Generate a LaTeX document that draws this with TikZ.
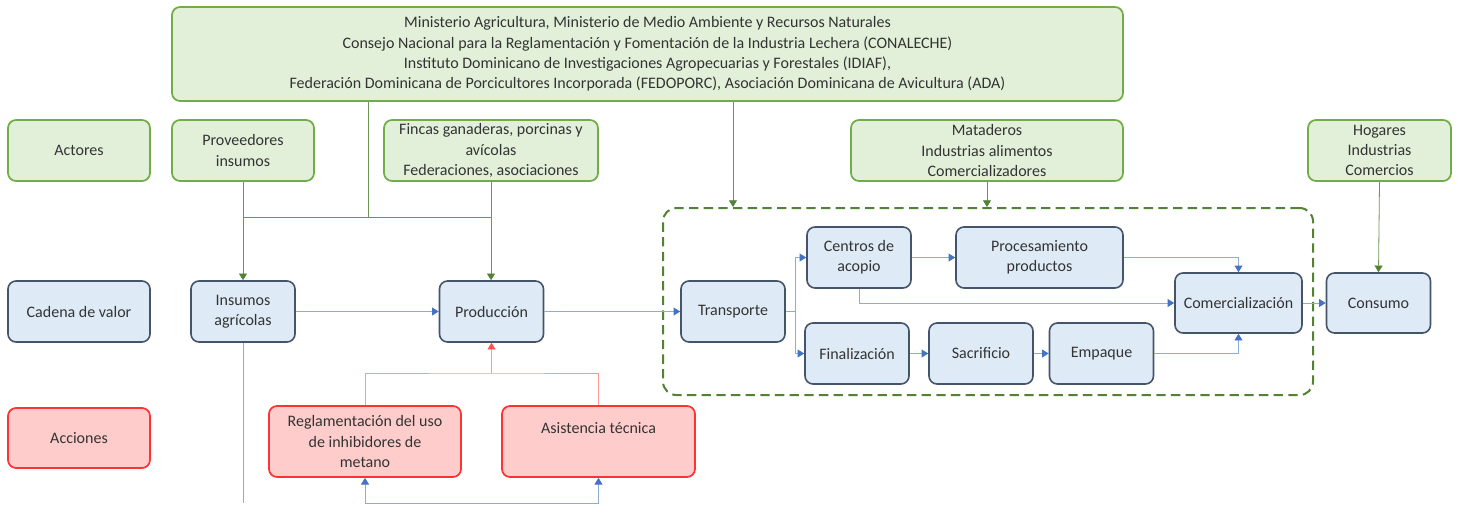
\documentclass[tikz,border=0pt]{standalone}
\usepackage{fontspec}
\setmainfont{Carlito}
\usetikzlibrary{arrows.meta}
\definecolor{verdeFondo}{HTML}{E2F0D9}
\definecolor{verdeBorde}{HTML}{70AD47}
\definecolor{verdeLinea}{HTML}{548235}
\definecolor{azulFondo}{HTML}{DEEBF7}
\definecolor{azulBorde}{HTML}{44546A}
\definecolor{azulLinea}{HTML}{8FAADC}
\definecolor{azulPunta}{HTML}{4472C4}
\definecolor{rojoFondo}{HTML}{FFCCCC}
\definecolor{rojoBorde}{HTML}{FF3333}
\definecolor{rojoLinea}{HTML}{FF9999}
\definecolor{rojoPunta}{HTML}{FF5050}
\definecolor{textoGris}{HTML}{333333}
\begin{document}
\begin{tikzpicture}[x=0.75pt,y=-0.75pt,
	every node/.style={font=\fontsize{12}{15.2}\selectfont,text=textoGris,align=center,inner sep=0pt,rounded corners=6pt},
	actor/.style={draw=verdeBorde,fill=verdeFondo,line width=1.3pt,minimum height=45.75pt},
	eslabon/.style={draw=azulBorde,fill=azulFondo,line width=1.2pt,minimum width=78pt,minimum height=45.75pt},
	accion/.style={draw=rojoBorde,fill=rojoFondo,line width=1.3pt,minimum height=45pt},
	verdeSin/.style={draw=verdeLinea!85!white,line width=0.6pt},
	verde/.style={verdeSin,>={Triangle[length=5pt,width=6pt,color=verdeLinea]},->},
	azulSin/.style={draw=azulLinea,line width=0.7pt},
	azul/.style={azulSin,>={Triangle[length=5pt,width=6pt,color=azulPunta]},->},
	rojoSin/.style={draw=rojoLinea,line width=0.7pt},
	rojo/.style={rojoSin,>={Triangle[length=5pt,width=6pt,color=rojoPunta]},->}]
	\useasboundingbox (0,0) rectangle (1460,504);

	% actores
	\node[actor,minimum width=713.25pt,minimum height=70.5pt] (top) at (647.5,54) {Ministerio Agricultura, Ministerio de Medio Ambiente y Recursos Naturales\\
		Consejo Nacional para la Reglamentación y Fomentación de la Industria Lechera (CONALECHE)\\
		Instituto Dominicano de Investigaciones Agropecuarias y Forestales (IDIAF),\\
		Federación Dominicana de Porcicultores Incorporada (FEDOPORC), Asociación Dominicana de Avicultura (ADA)};
	\node[actor,minimum width=106.5pt] (actores) at (79,150.5) {Actores};
	\node[actor,minimum width=106.5pt] (prov) at (243,150.5) {Proveedores\\insumos};
	\node[actor,minimum width=160.5pt] (fincas) at (491,150.5) {Fincas ganaderas, porcinas y\\avícolas\\Federaciones, asociaciones};
	\node[actor,minimum width=204pt] (mata) at (987,150.5) {Mataderos\\Industrias alimentos\\Comercializadores};
	\node[actor,minimum width=107.25pt] (hogares) at (1379.5,150.5) {Hogares\\Industrias\\Comercios};

	% cadena de valor
	\node[draw=verdeLinea,line width=1.5pt,dash pattern=on 7pt off 4pt,rounded corners=10pt,minimum width=487.5pt,minimum height=140.25pt] (zona) at (988,301.5) {};
	\node[eslabon,minimum width=106.5pt] (cadena) at (79,311.5) {Cadena de valor};
	\node[eslabon] (insumos) at (243,311.5) {Insumos\\agrícolas};
	\node[eslabon] (produccion) at (491.5,311.5) {Producción};
	\node[eslabon] (transporte) at (733,311.5) {Transporte};
	\node[eslabon] (acopio) at (859,257.5) {Centros de\\acopio};
	\node[eslabon,minimum width=125.25pt] (proc) at (1039.5,257.5) {Procesamiento\\productos};
	\node[eslabon] (final) at (857,353.5) {Finalización};
	\node[eslabon] (sacr) at (981,353.5) {Sacrificio};
	\node[eslabon] (empaque) at (1101.5,353.5) {Empaque};
	\node[eslabon,minimum width=95.25pt,minimum height=45pt] (comerc) at (1238.5,303) {Comercialización};
	\node[eslabon,minimum height=45pt] (consumo) at (1378.5,303) {Consumo};

	% acciones
	\node[accion,minimum width=106.5pt] (acciones) at (79,438) {Acciones};
	\node[accion,minimum width=144pt,minimum height=53.25pt] (regl) at (365,441.5) {Reglamentación del uso\\de inhibidores de\\metano};
	\node[accion,minimum width=144.75pt,minimum height=53.25pt] (asis) at (598.5,441.5) {Asistencia técnica\\\strut};

	\coordinate (cruce) at (368,217);
	\draw[verdeSin] (top.south -| cruce) -- (cruce);
	\draw[verdeSin] (prov.south |- cruce) -- (fincas.south |- cruce);
	\draw[verde] (prov.south) -- (insumos.north);
	\draw[verde] (fincas.south) -- (fincas.south |- produccion.north);
	\draw[verde] (top.south -| transporte) -- (zona.north -| transporte);
	\draw[verde] (mata.south) -- (mata.south |- zona.north);
	\draw[verde] (hogares.south) -- (consumo.north);

	\coordinate (reparto) at (795,311.5);
	\draw[azul] (insumos) -- (produccion);
	\draw[azul] (produccion) -- (transporte);
	\draw[azul] (transporte.east) -- (reparto) |- (acopio.west);
	\draw[azul] (reparto) |- (final.west);
	\draw[azul] (acopio) -- (proc);
	\draw[azul] (acopio.south) |- (comerc.west);
	\draw[azul] (proc.east) -| (comerc.north);
	\draw[azul] (final) -- (sacr);
	\draw[azul] (sacr) -- (empaque);
	\draw[azul] (empaque.east) -| (comerc.south);
	\draw[azul] (comerc) -- (consumo);

	\coordinate (fondo) at (243,503);
	\draw[azulSin] (insumos.south) -- (fondo);
	\draw[azul,<->] (regl.south) |- (fondo -| asis.south) -- (asis.south);

	\coordinate (union) at (491.5,373);
	\draw[rojoSin] (regl.north) |- (union) -| (asis.north);
	\draw[rojo] (union) -- (produccion.south);
\end{tikzpicture}
\end{document}
